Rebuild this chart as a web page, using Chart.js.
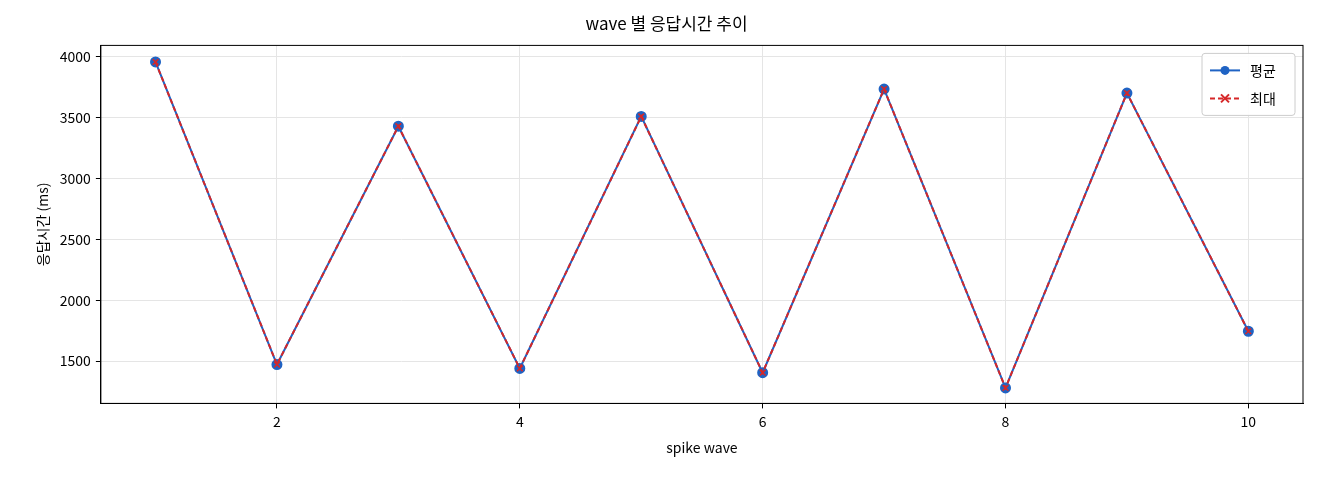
<!DOCTYPE html>
<html><head><meta charset="utf-8">
<script src="https://cdn.jsdelivr.net/npm/chart.js@4/dist/chart.umd.min.js"></script>
<style>html,body{margin:0;background:#fff}#w{width:1320px;height:480px}</style>
</head><body><div id="w"><canvas id="c"></canvas></div>
<script>
const waves=[1,2,3,4,5,6,7,8,9,10];
const avgMs=[3955,1472,3428,1440,3508,1405,3733,1280,3700,1745];
const maxMs=[3955,1472,3428,1440,3508,1405,3733,1280,3700,1745];
const F="'Noto Sans CJK KR','DejaVu Sans',sans-serif";
const BLUE='#1f63c4',RED='#d62728';
const legendPlugin={id:'lg',afterDraw(ch){
 const a=ch.chartArea,c=ch.ctx;
 c.save();c.strokeStyle='#000';c.lineWidth=1;c.strokeRect(a.left,a.top,a.right-a.left,a.bottom-a.top);
 const x=a.right-101,y=a.top+8,w=93,h=62;
 c.strokeStyle='#ccc';c.fillStyle='rgba(255,255,255,0.9)';
 c.beginPath();c.roundRect(x,y,w,h,3);c.fill();c.stroke();
 const items=[[BLUE,[],'circle','평균'],[RED,[5,3],'x','최대']];
 items.forEach((it,i)=>{const yy=y+17+i*28;c.strokeStyle=it[0];c.lineWidth=2;c.setLineDash(it[1]);
  c.beginPath();c.moveTo(x+8,yy);c.lineTo(x+38,yy);c.stroke();c.setLineDash([]);
  if(it[2]==='circle'){c.fillStyle=it[0];c.beginPath();c.arc(x+23,yy,4.5,0,7);c.fill();}
  else{c.beginPath();c.moveTo(x+19,yy-4);c.lineTo(x+27,yy+4);c.moveTo(x+27,yy-4);c.lineTo(x+19,yy+4);c.stroke();}
  c.fillStyle='#000';c.font='14px '+F;c.textBaseline='middle';c.fillText(it[3],x+48,yy);});
 c.restore();}};
new Chart(document.getElementById('c'),{type:'line',
 data:{datasets:[
  {label:'평균',order:1,data:waves.map((w,i)=>({x:w,y:avgMs[i]})),borderColor:BLUE,backgroundColor:BLUE,borderWidth:2,pointRadius:4.5,pointStyle:'circle',tension:0},
  {label:'최대',order:0,data:waves.map((w,i)=>({x:w,y:maxMs[i]})),borderColor:RED,backgroundColor:RED,borderWidth:2,borderDash:[5,3],pointRadius:4,pointStyle:'crossRot',pointBorderWidth:1.5,tension:0}]},
 options:{responsive:true,maintainAspectRatio:false,animation:false,
  layout:{padding:{left:30,right:17,top:5,bottom:20}},
  plugins:{legend:{display:false},tooltip:{enabled:false},
   title:{display:true,text:'wave 별 응답시간 추이',color:'#000',font:{family:F,size:17,weight:'normal'},padding:{top:8,bottom:12}}},
  scales:{
   x:{type:'linear',min:0.55,max:10.45,border:{color:'#000',width:1},
    afterBuildTicks(s){s.ticks=[2,4,6,8,10].map(v=>({value:v}));},
    grid:{color:'#e5e5e5',drawTicks:true,tickLength:5,tickColor:'#000'},
    ticks:{color:'#000',font:{family:F,size:14},padding:5},
    title:{display:true,text:'spike wave',color:'#000',font:{family:F,size:14}}},
   y:{min:1153,max:4091,border:{color:'#000',width:1},
    afterBuildTicks(s){s.ticks=[1500,2000,2500,3000,3500,4000].map(v=>({value:v}));},
    grid:{color:'#e5e5e5',tickLength:5,tickColor:'#000'},
    ticks:{color:'#000',font:{family:F,size:14},padding:5,callback:v=>String(v)},
    title:{display:true,text:'응답시간 (ms)',color:'#000',font:{family:F,size:14}}}}},
 plugins:[legendPlugin]});
</script></body></html>
